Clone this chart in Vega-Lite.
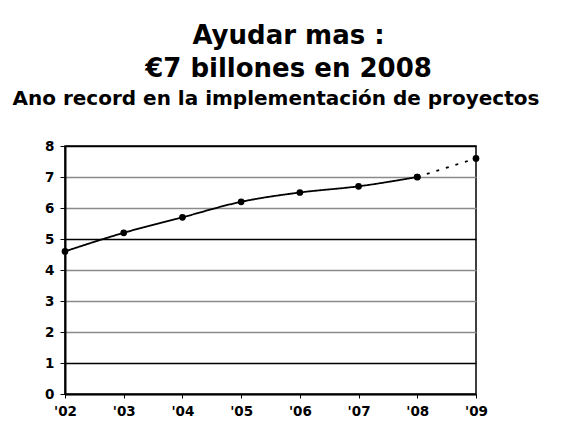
{
  "$schema": "https://vega.github.io/schema/vega-lite/v6.json",
  "width": 411,
  "height": 248,
  "autosize": {"type": "none"},
  "padding": {"left": 65, "top": 146, "right": 104, "bottom": 47},
  "background": "white",
  "title": {
    "text": ["Ayudar mas :", "€7 billones en 2008"],
    "anchor": "middle",
    "dx": 18,
    "offset": 6,
    "font": "DejaVu Sans",
    "fontSize": 26,
    "fontWeight": "bold",
    "lineHeight": 33,
    "color": "black"
  },
  "config": {
    "view": {"stroke": "black", "strokeWidth": 1.5}
  },
  "data": {
    "values": [
      {"year": "'02", "value": 4.6, "series": "real"},
      {"year": "'03", "value": 5.2, "series": "real"},
      {"year": "'04", "value": 5.7, "series": "real"},
      {"year": "'05", "value": 6.2, "series": "real"},
      {"year": "'06", "value": 6.5, "series": "real"},
      {"year": "'07", "value": 6.7, "series": "real"},
      {"year": "'08", "value": 7.0, "series": "real"},
      {"year": "'08", "value": 7.0, "series": "prevision"},
      {"year": "'09", "value": 7.6, "series": "prevision"}
    ]
  },
  "encoding": {
    "x": {
      "field": "year",
      "type": "ordinal",
      "sort": ["'02", "'03", "'04", "'05", "'06", "'07", "'08", "'09"],
      "scale": {"type": "point", "padding": 0},
      "axis": {
        "title": null,
        "labelAngle": 0,
        "labelFont": "DejaVu Sans",
        "labelFontWeight": "bold",
        "labelFontSize": 13.5,
        "labelColor": "black",
        "domainColor": "black",
        "tickColor": "black",
        "tickSize": 4,
        "labelPadding": 6,
        "domainWidth": 2,
        "grid": false
      }
    },
    "y": {
      "field": "value",
      "type": "quantitative",
      "scale": {"domain": [0, 8], "nice": false},
      "axis": {
        "title": "Ano record en la implementación de proyectos",
        "titleAngle": 0,
        "titleAlign": "left",
        "titleBaseline": "alphabetic",
        "titleX": -53,
        "titleY": -42,
        "titleFont": "DejaVu Sans",
        "titleFontSize": 20,
        "titleFontWeight": "bold",
        "titleColor": "black",
        "labelFont": "DejaVu Sans",
        "labelFontWeight": "bold",
        "labelFontSize": 13.5,
        "labelColor": "black",
        "domainColor": "black",
        "tickColor": "black",
        "values": [0, 1, 2, 3, 4, 5, 6, 7, 8],
        "tickSize": 5,
        "labelPadding": 6,
        "domainWidth": 2,
        "grid": true,
        "gridWidth": 1.5,
        "gridColor": {"condition": {"test": "datum.value == 5 || datum.value == 1 || datum.value == 8", "value": "black"}, "value": "#8a8a8a"}
      }
    }
  },
  "layer": [
    {
      "mark": {"type": "line", "color": "black", "strokeWidth": 1.8, "interpolate": "monotone"},
      "encoding": {
        "detail": {"field": "series"},
        "strokeDash": {
          "field": "series",
          "type": "nominal",
          "scale": {"domain": ["real", "prevision"], "range": [[1, 0], [3, 7]]},
          "legend": null
        }
      }
    },
    {
      "mark": {"type": "point", "filled": true, "color": "black", "size": 45, "opacity": 1}
    }
  ]
}
